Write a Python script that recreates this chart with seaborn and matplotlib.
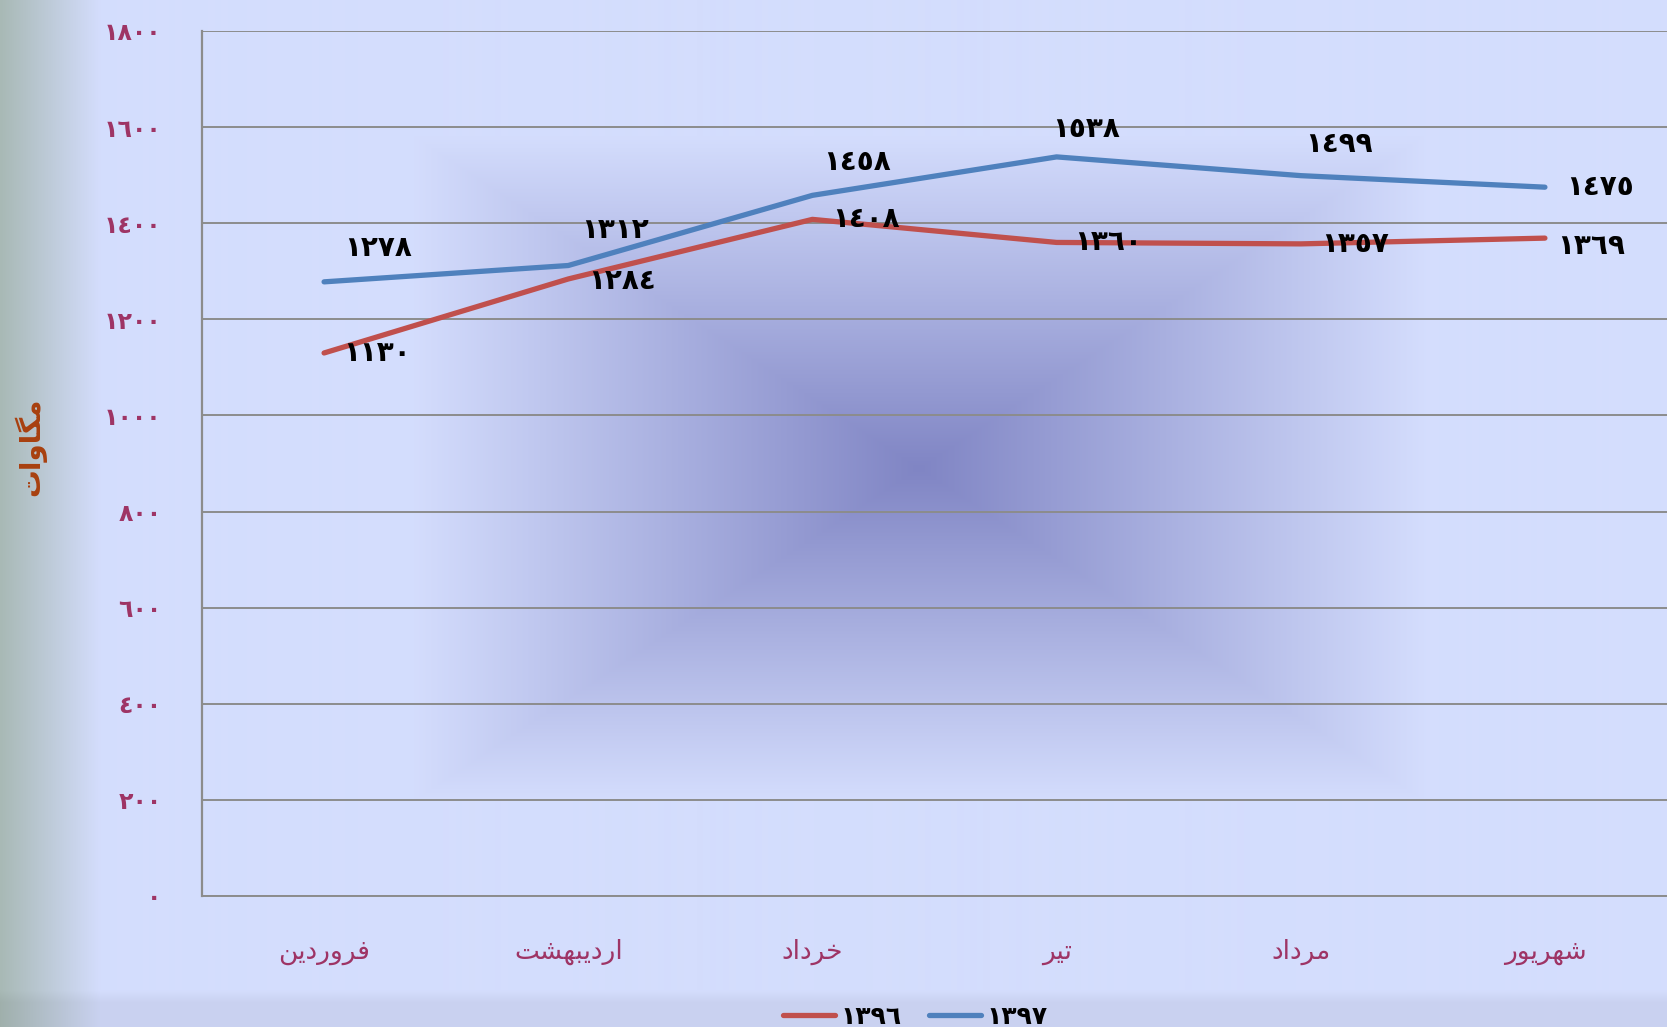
import numpy as np
import pandas as pd
import matplotlib.pyplot as plt
import seaborn as sns

# chart data
months = ["فروردین", "اردیبهشت", "خرداد", "تیر", "مرداد", "شهریور"]
years = ["1396", "1397"]
values_1396 = [1130, 1284, 1408, 1360, 1357, 1369]
values_1397 = [1278, 1312, 1458, 1538, 1499, 1475]
y_ticks = [0, 200, 400, 600, 800, 1000, 1200, 1400, 1600, 1800]
y_label = "مگاوات"

# label offsets in pixels (dx, dy)
offsets_1396 = [(53, 0), (54, -2), (54, 0), (52, 0), (54, 0), (46, -8)]
offsets_1397 = [(54, 34), (47, 36), (45, 33), (30, 28), (38, 32), (55, 0)]

# =========================
# ARABIC SHAPING (no shaping engine in matplotlib)
# =========================
FORMS = {
    "ا": (0xFE8D, 0xFE8E, None, None),
    "ب": (0xFE8F, 0xFE90, 0xFE91, 0xFE92),
    "ت": (0xFE95, 0xFE96, 0xFE97, 0xFE98),
    "خ": (0xFEA5, 0xFEA6, 0xFEA7, 0xFEA8),
    "د": (0xFEA9, 0xFEAA, None, None),
    "ر": (0xFEAD, 0xFEAE, None, None),
    "ش": (0xFEB5, 0xFEB6, 0xFEB7, 0xFEB8),
    "ف": (0xFED1, 0xFED2, 0xFED3, 0xFED4),
    "م": (0xFEE1, 0xFEE2, 0xFEE3, 0xFEE4),
    "ن": (0xFEE5, 0xFEE6, 0xFEE7, 0xFEE8),
    "ه": (0xFEE9, 0xFEEA, 0xFEEB, 0xFEEC),
    "و": (0xFEED, 0xFEEE, None, None),
    "ی": (0xFBFC, 0xFBFD, 0xFEF3, 0xFEF4),
    "گ": (0xFB92, 0xFB93, 0xFB94, 0xFB95),
}


def joins_forward(ch):
    return ch in FORMS and FORMS[ch][2] is not None


def shape(word):
    out = []
    for i, ch in enumerate(word):
        prev_j = i > 0 and joins_forward(word[i - 1])
        next_j = i < len(word) - 1 and joins_forward(ch)
        iso, fin, ini, med = FORMS[ch]
        if prev_j and next_j:
            code = med
        elif prev_j:
            code = fin
        elif next_j:
            code = ini
        else:
            code = iso
        out.append(chr(code))
    return "".join(reversed(out))


def fa_digits(n):
    return str(n).translate(str.maketrans("0123456789", "٠١٢٣٤٥٦٧٨٩"))


df = pd.DataFrame({
    "month": list(range(len(months))) * 2,
    "value": values_1396 + values_1397,
    "year": [years[0]] * len(months) + [years[1]] * len(months),
})

# =========================
# FIGURE + BACKGROUND
# =========================
W, H = 1667, 1027
fig = plt.figure(figsize=(W / 100, H / 100), dpi=100)

lav = np.array([212, 221, 253]) / 255
center = np.array([128, 133, 196]) / 255
gray = np.array([168, 185, 181]) / 255
yy, xx = np.mgrid[0:H, 0:W]
img = np.ones((H, W, 3)) * lav
t = np.maximum(np.abs(xx - 918) / 505, np.abs(yy - 468) / 332)
w = np.clip(1 - t, 0, 1)[..., None]
img = img * (1 - w) + center * w
s = np.clip(xx / 100, 0, 1)[..., None]
img = img * s + gray * (1 - s)
b = (np.clip((yy - 990) / 12, 0, 1) * 0.05)[..., None]
img = img * (1 - b)

bg = fig.add_axes([0, 0, 1, 1])
bg.imshow(img, extent=[0, 1, 0, 1], aspect="auto")
bg.axis("off")

ax = fig.add_axes([202 / W, 1 - 896 / H, 1 - 202 / W, (896 - 31) / H])
ax.set_facecolor("none")

sns.lineplot(
    data=df, x="month", y="value", hue="year",
    hue_order=years, palette=["#C0504D", "#4F81BD"],
    linewidth=3.8, ax=ax, legend=True,
    solid_capstyle="round", solid_joinstyle="round",
)

ax.set_xlim(-0.5, len(months) - 0.5)
ax.set_ylim(0, 1800)
ax.set_yticks(y_ticks)
ax.set_yticklabels([fa_digits(v) for v in y_ticks])
ax.set_xticks(range(len(months)))
ax.set_xticklabels([shape(m) for m in months])
ax.grid(axis="y", color="#8c8c8c", linewidth=1.4)
ax.set_axisbelow(True)
for side in ["top", "right"]:
    ax.spines[side].set_visible(False)
ax.spines["left"].set_color("#8c8c8c")
ax.spines["bottom"].set_color("#8c8c8c")
ax.spines["left"].set_linewidth(1.6)
ax.spines["bottom"].set_linewidth(1.4)

tick_color = "#9e3465"
ax.tick_params(axis="y", length=0, pad=29, labelsize=17, labelcolor=tick_color)
ax.tick_params(axis="x", length=0, pad=31, labelsize=19, labelcolor=tick_color)
for lbl in ax.get_yticklabels():
    lbl.set_fontweight("bold")
ax.set_xlabel("")
ax.set_ylabel("")

# data labels
for vals, offs in [(values_1396, offsets_1396), (values_1397, offsets_1397)]:
    for i, (v, (dx, dy)) in enumerate(zip(vals, offs)):
        ax.annotate(
            fa_digits(v), (i, v), xytext=(dx, dy), textcoords="offset pixels",
            ha="center", va="center", fontsize=20, fontweight="bold", color="black",
        )

fig.text(30 / W, 1 - 447 / H, shape(y_label), rotation=90, ha="center", va="center",
         fontsize=20, fontweight="bold", color="#a8400f")

handles, _ = ax.get_legend_handles_labels()
ax.legend(
    handles, [fa_digits(y) for y in years], loc="center", ncol=2,
    bbox_to_anchor=(0.549, 0.01), bbox_transform=fig.transFigure,
    frameon=False, handlelength=2.1, columnspacing=1.1, handletextpad=0.2,
    prop={"weight": "bold", "size": 18},
)

plt.savefig("out.png", dpi=100)
plt.close()
